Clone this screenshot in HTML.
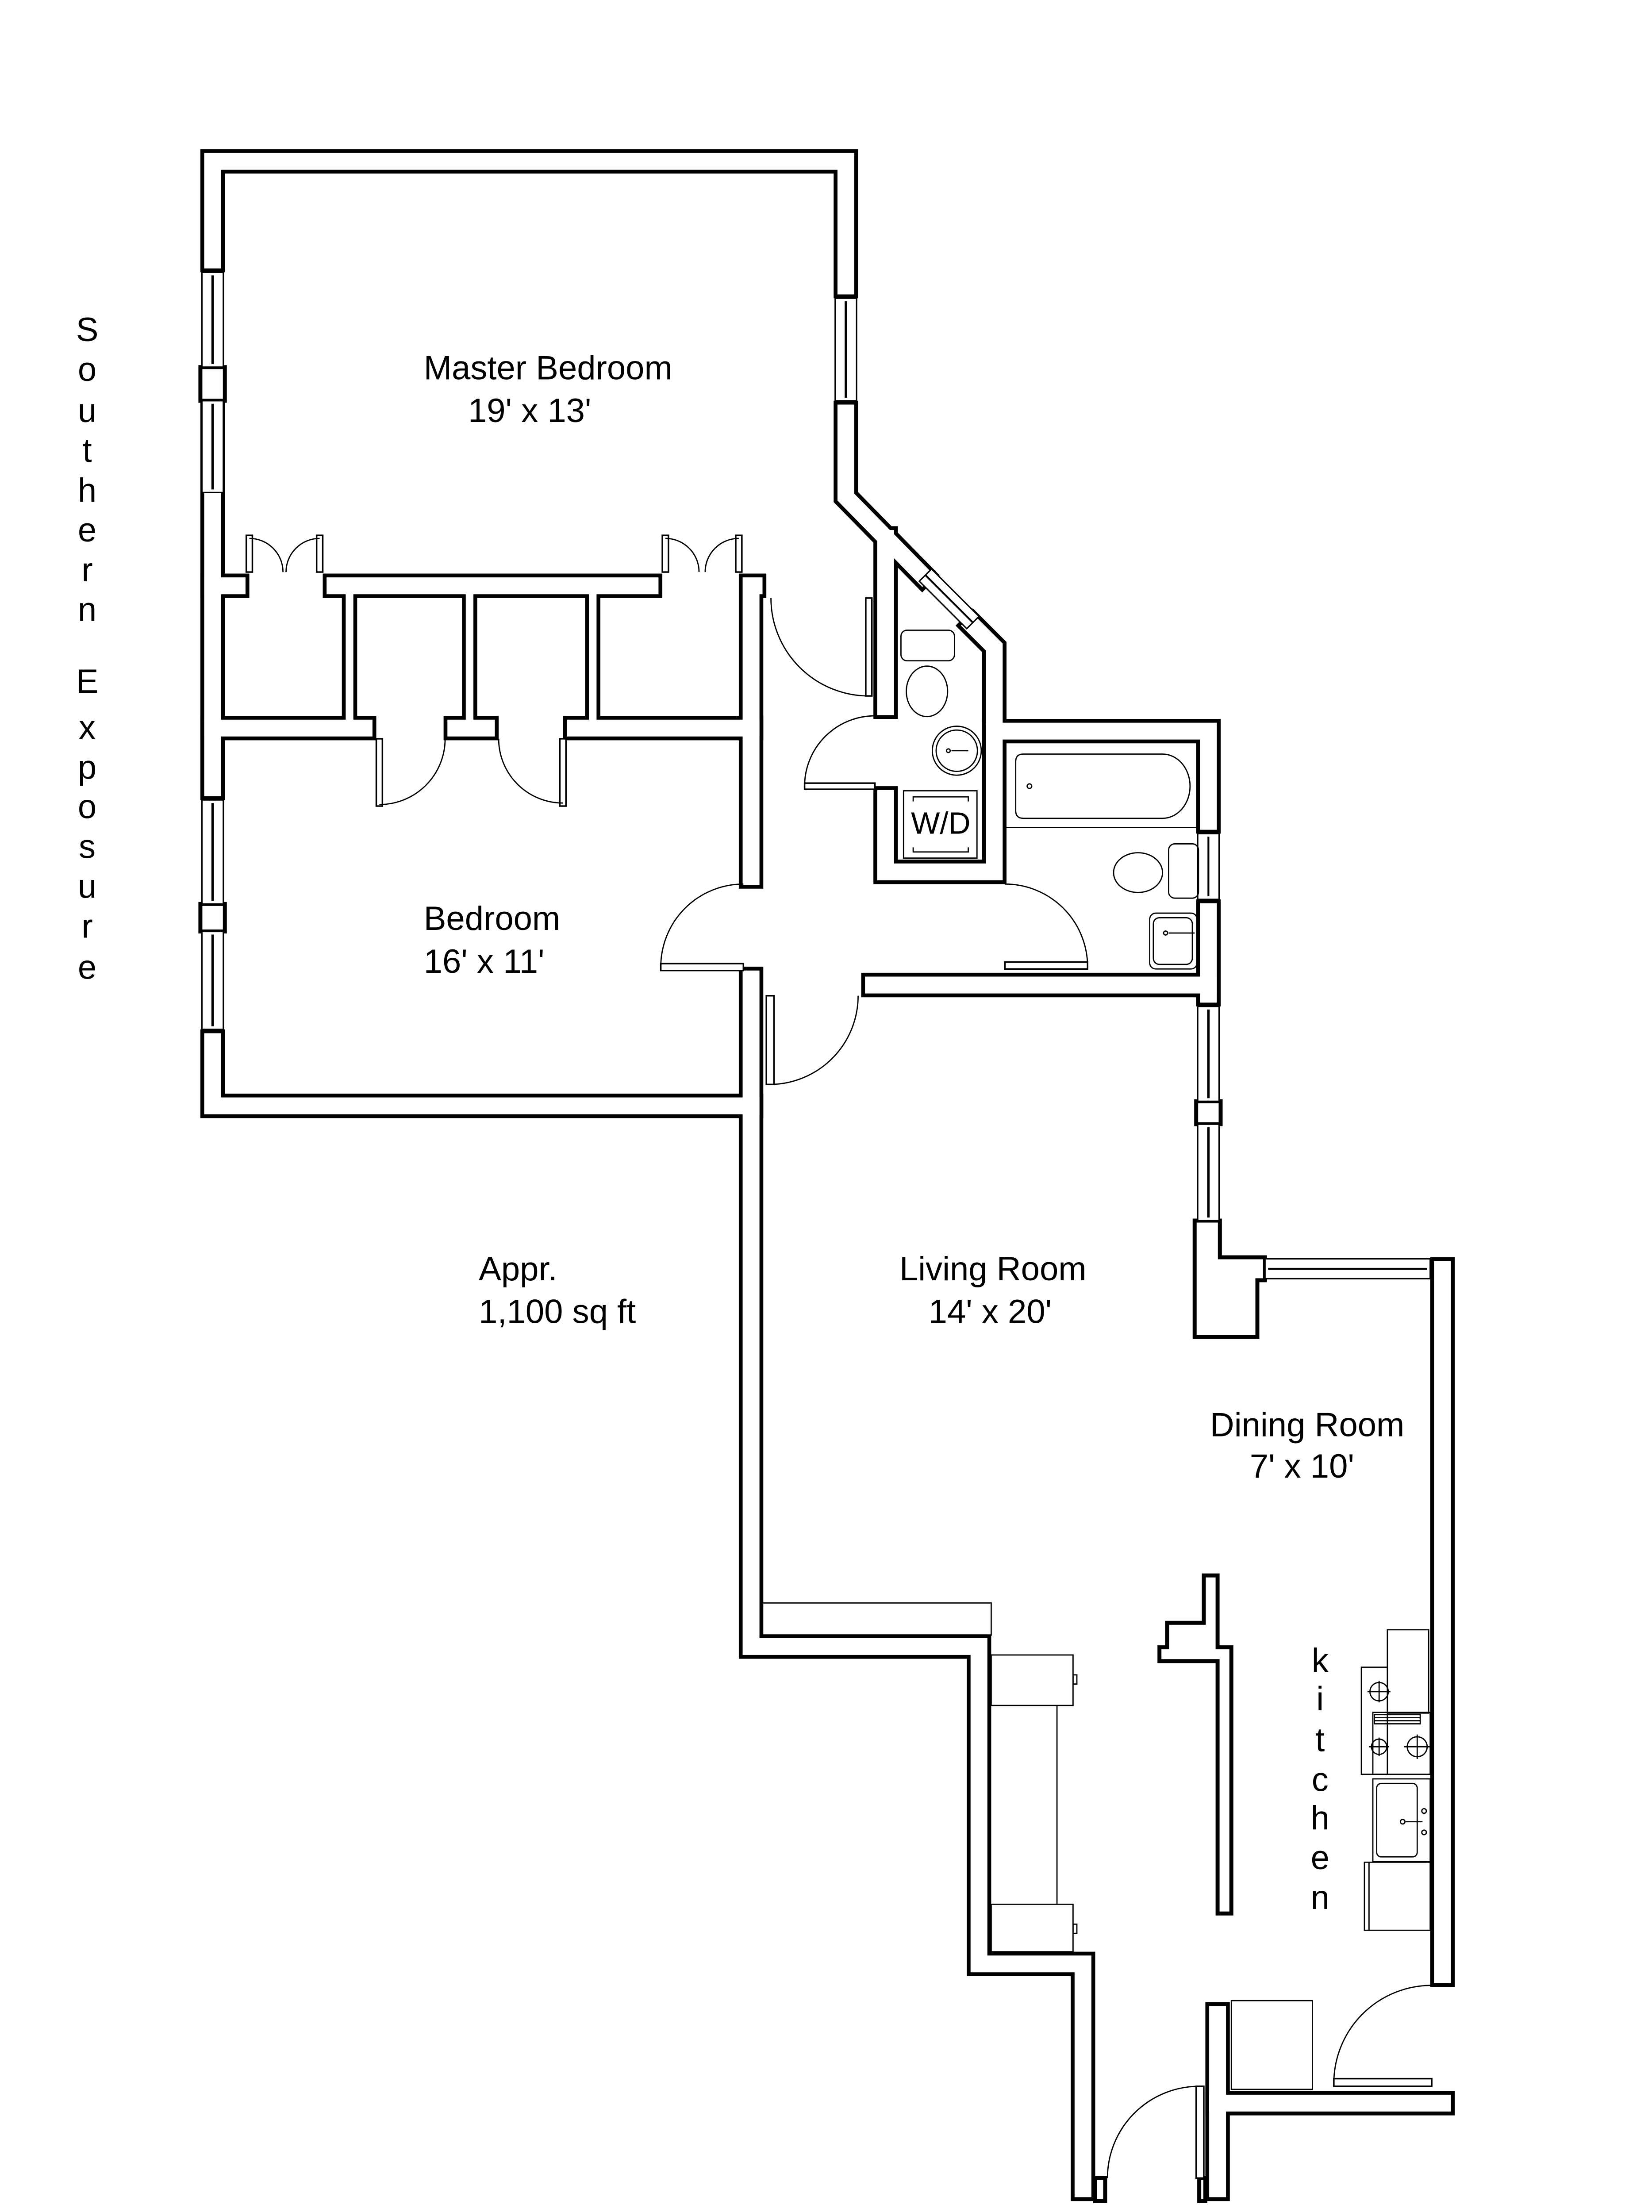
<!DOCTYPE html>
<html><head><meta charset="utf-8"><style>
html,body{margin:0;padding:0;background:#fff;width:3734px;height:5453px;overflow:hidden;position:relative;}
svg{display:block;position:absolute;left:0;top:0;}
text{font-family:"Liberation Sans",Arial,sans-serif;fill:#000;}
</style></head><body>
<svg width="3734" height="5453" viewBox="0 0 1080 1577.2" preserveAspectRatio="none" xmlns="http://www.w3.org/2000/svg">
<rect x="0" y="0" width="1080" height="1577.2" fill="#fff"/>
<defs>
<g id="thick">
<path d="M139 170 V105.5 H553 V187"/>
<path d="M139 270 V515"/>
<path d="M139 681 V723 H491"/>
<path d="M491 640 V1076.5 H640 V1284 H708 V1431"/>
<path d="M553 270 V325 L603 376"/>
<path d="M636 409 L650 423 V570 H579 V522"/>
<path d="M579 462 V352"/>
<path d="M650 478 H790 V537"/>
<path d="M571 644 H790"/>
<path d="M790 596 V650"/>
<path d="M943 830 V1291"/>
<path d="M796 1375 H943"/>
<path d="M796 1317 V1431"/>
<path d="M139 383 H155"/>
<path d="M219 383 H425"/>
<path d="M493 383 H491 V573"/>
<path d="M139 476 H238"/>
<path d="M298 476 H318"/>
<path d="M376 476 H491"/>
</g>
<g id="thin">
<path d="M228.5 383 V476"/>
<path d="M307 383 V476"/>
<path d="M387.5 383 V476"/>
</g>
</defs>
<g fill="none" stroke-linejoin="miter" stroke-linecap="square">
<use href="#thick" stroke="#000" stroke-width="16"/>
<use href="#thin" stroke="#000" stroke-width="10" stroke-linecap="butt"/>
<use href="#thick" stroke="#fff" stroke-width="11"/>
<use href="#thin" stroke="#fff" stroke-width="5" stroke-linecap="butt"/>
</g>

<g fill="#fff" stroke="#000" stroke-width="2.6" stroke-linejoin="miter">
<polygon points="781,798 797.5,798 797.5,822 827,822 827,837 822,837 822,874 781,874"/>
<polygon points="787,1030 796,1030 796,1077 805,1077 805,1251 796,1251 796,1086 758,1086 758,1077 763,1077 763,1061 787,1061"/>
<rect x="716" y="1424" width="6.5" height="15"/>
<rect x="784" y="1424" width="4" height="15"/>
<rect x="131" y="240" width="16" height="22"/>
<rect x="131" y="591" width="16" height="18"/>
<rect x="782" y="720" width="16" height="15"/>
</g>

<g fill="#fff" stroke="#000" stroke-width="0.9">
<rect x="132" y="178" width="14" height="62"/><line x1="139" y1="180" x2="139" y2="238" stroke-width="1.6"/>
<rect x="132" y="262" width="14" height="60"/><line x1="139" y1="264" x2="139" y2="320" stroke-width="1.6"/>
<rect x="132" y="523" width="14" height="68"/><line x1="139" y1="525" x2="139" y2="589" stroke-width="1.6"/>
<rect x="132" y="609" width="14" height="64"/><line x1="139" y1="611" x2="139" y2="671" stroke-width="1.6"/>
<rect x="546" y="195" width="14" height="67"/><line x1="553" y1="197" x2="553" y2="260" stroke-width="1.6"/>
<rect x="783" y="545" width="14" height="43"/><line x1="790" y1="547" x2="790" y2="586" stroke-width="1.2"/>
<rect x="783" y="658" width="14" height="62"/><line x1="790" y1="660" x2="790" y2="718" stroke-width="1.6"/>
<rect x="783" y="735" width="14" height="63"/><line x1="790" y1="737" x2="790" y2="796" stroke-width="1.6"/>
<rect x="827" y="823" width="108" height="13"/><line x1="829" y1="829.5" x2="933" y2="829.5" stroke-width="1.2"/>
<polygon points="609,372 640,403 632,411 601,380"/><line x1="605" y1="376" x2="636" y2="407" stroke-width="1.2"/>
</g>

<g fill="#fff" stroke="#000" stroke-width="1">
<rect x="161" y="350" width="4" height="24"/><rect x="207" y="350" width="4" height="24"/>
<rect x="433" y="350" width="4" height="24"/><rect x="481" y="350" width="4" height="24"/>
<rect x="246" y="483" width="4" height="44"/><rect x="366" y="483" width="4" height="44"/>
<rect x="432" y="630" width="54" height="4.5"/>
<rect x="566" y="391" width="4" height="64"/>
<rect x="526" y="512" width="46" height="4"/>
<rect x="657" y="629" width="54" height="4.5"/>
<rect x="501" y="651" width="5" height="58"/>
<rect x="872" y="1359" width="64" height="5"/>
<rect x="782" y="1364" width="5" height="60"/>
</g>
<g fill="none" stroke="#000" stroke-width="0.8">
<path d="M163 352 A22 22 0 0 1 185 374"/><path d="M209 352 A22 22 0 0 0 187 374"/>
<path d="M435 352 A22 22 0 0 1 457 374"/><path d="M483 352 A22 22 0 0 0 461 374"/>
<path d="M248 526 A43 43 0 0 0 291 483"/><path d="M368 525 A42 42 0 0 1 326 483"/>
<path d="M432 632 A54 54 0 0 1 486 578"/>
<path d="M711 632 A54 54 0 0 0 657 578"/>
<path d="M568 455 A64 64 0 0 1 504 391"/>
<path d="M526 514 A46 46 0 0 1 572 468"/>
<path d="M503 709 A58 58 0 0 0 561 651"/>
<path d="M872 1362 A64 64 0 0 1 936 1298"/>
<path d="M724 1424 A60 60 0 0 1 784 1364"/>
</g>

<g fill="none" stroke="#000" stroke-width="0.8">
<rect x="589" y="412" width="35" height="20" rx="4"/>
<ellipse cx="606" cy="452" rx="13.5" ry="16.5"/>
<circle cx="625.5" cy="490.8" r="16"/><circle cx="625.5" cy="490.8" r="13.5"/>
<circle cx="620" cy="490.8" r="1.2"/><line x1="622" y1="490.8" x2="633" y2="490.8"/>
<rect x="590.7" y="517" width="48" height="44"/>
<path d="M597 524 V521 H633 V524 M597 554 V557 H633 V554"/>
<path d="M669 493 H760 A18 21 0 0 1 760 535 H669 Q664 535 664 530 V498 Q664 493 669 493 Z"/>
<line x1="657" y1="541" x2="783" y2="541"/>
<circle cx="673" cy="514" r="1.5"/>
<rect x="764" y="551.7" width="19.5" height="35.5" rx="4"/>
<ellipse cx="744" cy="570.5" rx="16" ry="13"/>
<rect x="751.6" y="597" width="31" height="36.5" rx="4"/>
<rect x="754" y="600" width="25.5" height="30.5" rx="4"/>
<circle cx="762" cy="610" r="1.3"/><line x1="764" y1="610" x2="781" y2="610"/>
<rect x="498" y="1048" width="150" height="21"/>
<rect x="648" y="1082" width="53.5" height="33"/>
<rect x="648" y="1245" width="53.5" height="31"/>
<line x1="691" y1="1115" x2="691" y2="1245"/>
<rect x="701.5" y="1095" width="2.5" height="6"/><rect x="701.5" y="1258" width="2.5" height="6"/>
<rect x="907" y="1065.5" width="27" height="54.5"/>
<rect x="890" y="1090" width="17" height="70"/>
<rect x="897.5" y="1119.5" width="37.5" height="40.5"/>
<rect x="898.5" y="1121" width="30" height="6"/>
<line x1="898.5" y1="1123" x2="928.5" y2="1123"/><line x1="898.5" y1="1125" x2="928.5" y2="1125"/>
<circle cx="901.6" cy="1106" r="6"/><path d="M894 1106 H909 M901.6 1099 V1113"/>
<circle cx="901.6" cy="1142" r="5"/><path d="M895 1142 H908 M901.6 1136 V1148"/>
<circle cx="926.5" cy="1142" r="6.5"/><path d="M918 1142 H935 M926.5 1134 V1150"/>
<rect x="897.5" y="1163" width="37.5" height="54"/>
<rect x="900" y="1166" width="26.5" height="48" rx="3"/>
<circle cx="917" cy="1191" r="1.5"/><line x1="919" y1="1191" x2="930" y2="1191"/>
<circle cx="931" cy="1184" r="1.5"/><circle cx="931" cy="1198" r="1.5"/>
<rect x="892" y="1217.5" width="43" height="44.5"/><line x1="895" y1="1217.5" x2="895" y2="1262"/>
<rect x="805" y="1308" width="53" height="58"/>
</g>

<g font-size="22">
<text x="277" y="248">Master Bedroom</text>
<text x="306" y="276">19' x 13'</text>
<text x="277" y="608">Bedroom</text>
<text x="277" y="636">16' x 11'</text>
<text x="313" y="837">Appr.</text>
<text x="313" y="865">1,100 sq ft</text>
<text x="588" y="837">Living Room</text>
<text x="607" y="865">14' x 20'</text>
<text x="791" y="939">Dining Room</text>
<text x="817" y="966">7' x 10'</text>
<text x="707" y="1501">Entrance</text>
<text x="615" y="545" font-size="20" text-anchor="middle">W/D</text>
</g>
<g font-size="22" text-anchor="middle">
<text x="863" y="1093">k</text><text x="863" y="1118">i</text><text x="863" y="1145">t</text>
<text x="863" y="1171">c</text><text x="863" y="1196">h</text><text x="863" y="1222">e</text><text x="863" y="1248">n</text>
</g>
<g font-size="22" text-anchor="middle">
<text x="57" y="223">S</text><text x="57" y="249">o</text><text x="57" y="276">u</text><text x="57" y="302">t</text>
<text x="57" y="328">h</text><text x="57" y="354">e</text><text x="57" y="380">r</text><text x="57" y="406">n</text>
<text x="57" y="453">E</text><text x="57" y="483">x</text><text x="57" y="509">p</text><text x="57" y="535">o</text>
<text x="57" y="561">s</text><text x="57" y="587">u</text><text x="57" y="613">r</text><text x="57" y="640">e</text>
</g>
</svg>
</body></html>
